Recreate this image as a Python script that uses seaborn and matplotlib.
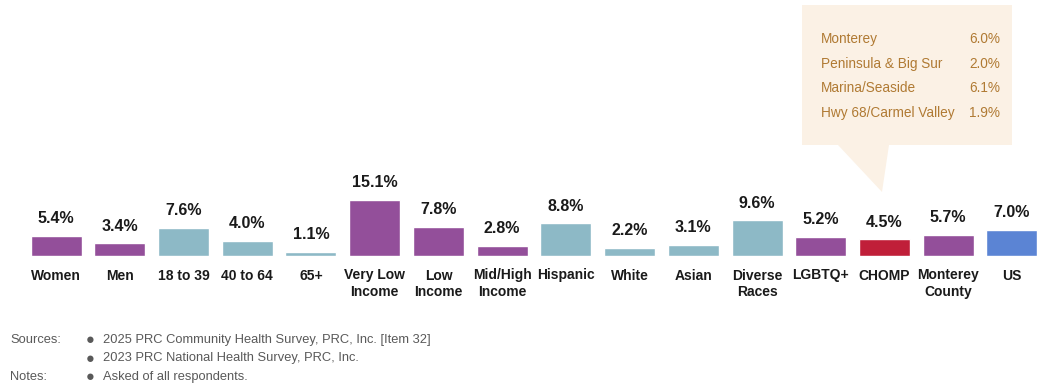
import matplotlib
matplotlib.use('Agg')
import matplotlib.pyplot as plt
import seaborn as sns
import pandas as pd
from matplotlib.patches import Polygon

# -----------------------------------------------------------------------------
# Données
# -----------------------------------------------------------------------------
categories = ['Women', 'Men', '18 to 39', '40 to 64', '65+', 'Very Low\nIncome',
              'Low\nIncome', 'Mid/High\nIncome', 'Hispanic', 'White', 'Asian',
              'Diverse\nRaces', 'LGBTQ+', 'CHOMP', 'Monterey\nCounty', 'US']
values = [5.4, 3.4, 7.6, 4.0, 1.1, 15.1, 7.8, 2.8, 8.8, 2.2, 3.1, 9.6, 5.2, 4.5, 5.7, 7.0]
groups = ['sex', 'sex', 'age', 'age', 'age', 'income', 'income', 'income',
          'race', 'race', 'race', 'race', 'lgbtq', 'chomp', 'county', 'us']

callout_areas = ['Monterey', 'Peninsula & Big Sur', 'Marina/Seaside', 'Hwy 68/Carmel Valley']
callout_values = [6.0, 2.0, 6.1, 1.9]

sources = ['2025 PRC Community Health Survey, PRC, Inc. [Item 32]',
           '2023 PRC National Health Survey, PRC, Inc.']
notes = ['Asked of all respondents.']

purple = '#934F9A'
teal = '#8DB9C6'
red = '#C01F39'
blue = '#5B84D4'
group_colors = {'sex': purple, 'age': teal, 'income': purple, 'race': teal,
                'lgbtq': purple, 'chomp': red, 'county': purple, 'us': blue}

df = pd.DataFrame({'category': categories, 'value': values, 'group': groups})
palette = {c: group_colors[g] for c, g in zip(categories, groups)}

# -----------------------------------------------------------------------------
# Figure
# -----------------------------------------------------------------------------
sns.set_style('white')
plt.rcParams['font.family'] = ['Liberation Sans', 'DejaVu Sans']

W, H = 1045, 389
fig = plt.figure(figsize=(W / 100, H / 100), dpi=100)
ax = fig.add_axes([24.2 / W, 133 / H, 1019.6 / W, 74 / H])

sns.barplot(data=df, x='category', y='value', hue='category', palette=palette,
            order=categories, hue_order=categories, legend=False,
            width=0.8, saturation=1, ax=ax)

ax.set_xlim(-0.5, len(categories) - 0.5)
ax.set_ylim(0, 20)
ax.set_xlabel('')
ax.set_ylabel('')
ax.set_yticks([])
ax.tick_params(axis='x', length=0, pad=9)
ax.set_xticks(range(len(categories)))
ax.set_xticklabels(categories, fontsize=10, fontweight='bold', color='#1a1a1a',
                   linespacing=1.25, va='top')
sns.despine(ax=ax, left=True, bottom=True)

for container, v in zip(ax.containers, values):
    ax.bar_label(container, labels=[f'{v:.1f}%'], padding=7, fontsize=11.5,
                 fontweight='bold', color='#1a1a1a')

# -----------------------------------------------------------------------------
# Encadré (bulle) des zones CHOMP
# -----------------------------------------------------------------------------
def px(x, y):
    return (x / W, 1 - y / H)

box_color = '#FBF1E5'
bubble = [px(802, 5), px(1012, 5), px(1012, 145), px(889, 145), px(882, 192),
          px(838, 145), px(802, 145)]
fig.patches.append(Polygon(bubble, closed=True, transform=fig.transFigure,
                           facecolor=box_color, edgecolor='none', zorder=0))

text_color = '#B07A33'
for i, (area, val) in enumerate(zip(callout_areas, callout_values)):
    y = 39 + i * 24.7
    fig.text(*px(821, y), area, fontsize=9.8, color=text_color, va='center', ha='left')
    fig.text(*px(1000, y), f'{val:.1f}%', fontsize=9.8, color=text_color,
             va='center', ha='right')

# -----------------------------------------------------------------------------
# Sources et notes
# -----------------------------------------------------------------------------
note_color = '#595959'
rows = []
for i, s in enumerate(sources):
    rows.append(('Sources:' if i == 0 else '', s))
for i, n in enumerate(notes):
    rows.append(('Notes:' if i == 0 else '', n))

for i, (head, txt) in enumerate(rows):
    y = 340 + i * 18.5
    if head:
        fig.text(*px(10, y), head, fontsize=9.3, color=note_color, va='center')
    fig.text(*px(86, y), '\u25cf', fontsize=10.5, color=note_color, va='center')
    fig.text(*px(103, y), txt, fontsize=9.3, color=note_color, va='center')

fig.savefig('out.png', dpi=100)
plt.close(fig)
